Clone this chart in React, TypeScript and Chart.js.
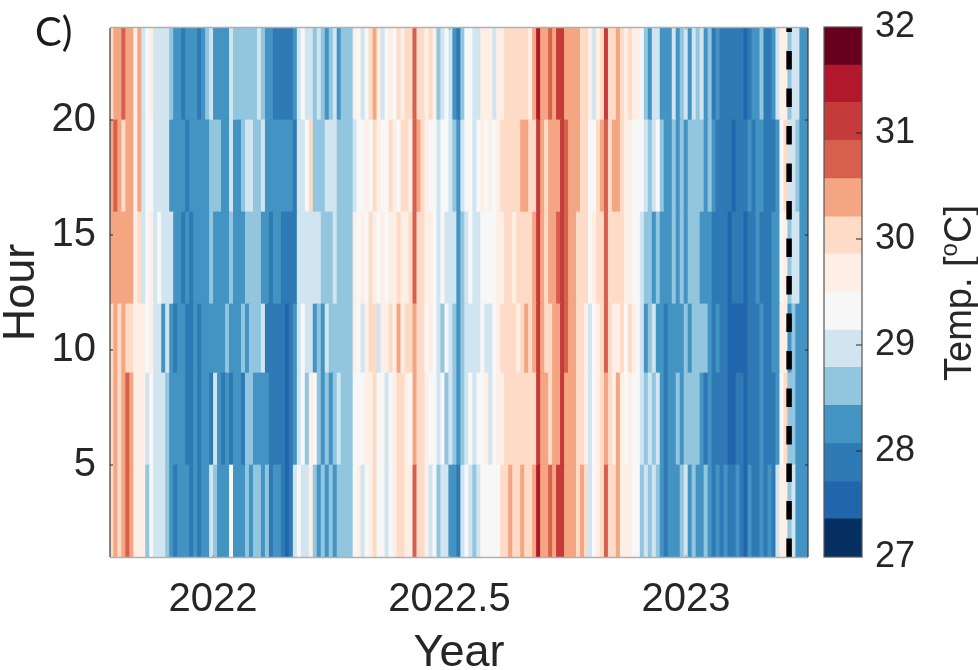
import React, { useEffect, useRef } from "react";
import { Chart, registerables } from "chart.js";

Chart.register(...registerables);

const FONT = "'Liberation Sans', Arial, sans-serif";
const INK = "#262626";

// Shading classes of the colour bar, coldest first
const classColors = ["#053061", "#2166ac", "#2f79b5", "#4393c3", "#92c5de", "#d1e5f0", "#f7f7f7", "#fdefe6", "#fddbc7", "#f4a582", "#d6604d", "#c53a3a", "#b2182b", "#67001f"];
const colorbarEdges = [27, 27.36, 27.71, 28.07, 28.43, 28.79, 29.14, 29.5, 29.86, 30.21, 30.57, 30.93, 31.29, 31.64, 32];

const hourEdges = [1, 5, 9, 12, 16, 20, 24];
const yearMin = 2021.782;
const yearMax = 2023.258;
const xTickValues = [2022, 2022.5, 2023];
const yTickValues = [5, 10, 15, 20];
const eventYear = 2023.218;

// Temperature (deg C), one array per band of hours, one value per time column
const tempHours1to5 = [
  30.0,30.4,30.0,30.4,30.7,30.4,29.7,29.7,29.7,28.6,
  29.3,29.0,29.0,29.0,28.6,28.2,27.9,28.2,28.2,28.2,
  27.9,28.2,27.9,28.2,28.2,29.0,28.6,28.2,28.2,28.2,
  29.3,28.2,28.2,28.2,28.6,28.2,28.6,28.6,28.2,28.6,
  27.9,28.2,28.2,27.9,27.5,27.9,29.0,29.3,29.0,29.0,
  29.7,28.6,28.2,28.6,28.2,28.6,28.2,28.6,28.6,28.6,
  28.6,29.3,29.7,29.0,29.3,29.7,30.0,29.3,29.3,29.0,
  29.3,29.7,30.0,30.0,29.7,29.7,30.7,30.0,30.0,29.7,
  29.0,29.3,28.6,29.0,29.0,28.2,28.2,27.9,29.0,29.3,
  29.0,28.6,29.0,29.3,29.3,29.3,29.3,29.3,30.0,30.0,
  30.4,30.0,30.0,30.4,30.0,30.0,30.4,31.5,30.4,30.4,
  30.7,30.4,31.1,31.1,30.4,30.4,30.4,30.0,30.4,30.0,
  29.0,29.3,29.7,30.0,30.7,30.0,30.0,30.4,29.7,29.7,
  29.7,29.3,29.3,28.6,29.0,28.6,29.0,28.6,28.2,27.9,
  28.2,28.2,28.2,28.6,29.0,28.2,28.6,28.2,28.2,28.6,
  28.2,27.9,28.2,27.9,28.2,27.9,27.9,28.2,27.9,27.5,
  28.2,27.9,27.9,28.2,27.9,28.2,27.9,29.0,29.7,29.7,
  28.6,29.0,28.2,28.2,28.2,
];
const tempHours5to9 = [
  30.0,30.4,30.0,30.4,30.7,30.4,29.7,29.7,29.7,29.0,
  29.3,29.0,29.0,29.0,28.6,28.2,28.2,28.2,28.2,27.9,
  27.9,28.2,27.9,28.2,28.2,27.9,29.0,28.2,27.9,28.2,
  27.9,28.2,28.2,27.9,28.6,28.6,28.2,28.2,28.2,28.2,
  27.9,27.9,27.9,27.9,27.5,27.9,28.2,29.0,29.3,28.6,
  29.7,29.3,28.6,28.2,28.6,28.2,28.6,29.0,28.6,28.6,
  28.6,29.3,29.3,29.3,29.7,29.7,30.0,29.3,29.3,29.0,
  29.3,29.7,30.0,30.0,29.7,29.3,30.4,30.0,30.0,29.7,
  29.3,29.3,29.0,29.3,28.6,29.0,28.6,28.2,28.6,29.0,
  29.3,29.0,29.3,29.3,29.7,29.0,29.3,29.7,29.7,30.0,
  30.0,30.0,30.0,30.0,30.0,30.0,30.0,31.1,30.4,30.4,
  30.0,30.4,30.4,31.1,30.4,30.4,30.4,30.0,30.0,29.7,
  29.0,29.3,29.7,30.0,30.4,30.0,29.7,30.4,29.7,29.3,
  29.7,29.3,29.3,29.0,28.6,29.0,28.6,29.0,28.2,27.9,
  28.2,28.2,28.6,28.2,28.6,28.6,28.6,28.6,28.2,27.9,
  28.2,27.9,27.9,27.9,27.9,27.5,27.5,27.9,27.9,27.5,
  27.9,27.9,27.9,28.2,27.9,27.9,27.9,28.2,29.3,30.0,
  28.6,28.6,28.2,28.2,28.2,
];
const tempHours9to12 = [
  30.0,30.4,30.0,30.4,30.0,30.0,29.7,29.7,29.7,29.3,
  29.7,29.0,29.0,28.2,29.0,28.2,27.9,28.2,28.2,27.9,
  27.9,28.2,27.9,28.2,28.2,28.2,28.2,28.2,28.2,28.6,
  28.2,28.2,28.2,28.6,28.2,28.6,28.6,28.6,29.0,27.9,
  27.9,27.9,27.9,27.9,27.5,27.9,28.2,29.0,29.3,29.0,
  29.0,28.2,28.6,28.2,29.0,28.6,28.6,28.6,28.6,28.6,
  28.6,29.7,29.3,29.0,29.7,30.0,30.0,29.0,29.7,29.7,
  30.0,29.7,30.4,29.7,30.0,30.0,30.4,30.0,30.0,29.3,
  29.7,29.3,29.0,28.6,29.3,29.0,28.6,28.2,28.6,29.0,
  29.0,29.0,29.0,29.3,29.0,29.0,29.3,29.7,30.0,30.0,
  30.0,30.0,29.7,30.0,30.4,30.0,30.4,31.1,30.4,30.0,
  30.0,30.4,30.4,31.1,30.7,30.4,30.4,30.0,30.0,29.7,
  29.0,29.3,29.7,30.0,30.7,30.0,29.7,29.7,30.0,29.3,
  30.0,29.7,29.3,29.0,28.2,28.6,29.0,28.2,28.2,27.9,
  28.2,28.2,28.2,28.2,28.6,28.2,28.6,28.6,28.6,28.6,
  28.2,27.9,28.2,27.9,27.9,27.5,27.5,27.5,27.5,27.5,
  27.9,27.9,27.9,28.2,27.9,27.9,28.2,28.2,29.7,29.7,
  28.2,28.6,28.2,28.2,28.2,
];
const tempHours12to16 = [
  30.4,30.4,30.4,30.4,30.4,30.4,29.7,30.0,29.0,29.3,
  29.7,29.0,29.3,29.0,29.0,29.0,28.2,28.2,27.9,28.2,
  27.9,28.2,28.2,28.2,28.2,28.6,28.2,28.2,28.2,28.2,
  28.6,28.2,28.2,28.2,28.6,28.6,28.6,28.6,28.2,28.2,
  27.9,28.2,28.2,27.9,27.9,27.9,27.9,29.0,29.0,29.0,
  29.0,29.0,29.0,28.6,28.6,28.6,29.0,28.6,28.6,28.6,
  28.6,29.7,29.3,29.7,29.3,30.0,29.7,29.3,29.7,29.3,
  29.7,29.7,30.0,29.7,29.7,30.0,30.7,30.0,30.0,29.7,
  29.7,29.3,29.0,29.3,29.0,29.0,29.0,28.2,28.6,29.0,
  29.3,29.0,29.0,29.3,29.3,29.3,29.3,29.7,29.7,30.0,
  30.0,29.7,30.0,30.0,30.0,30.0,30.4,31.1,30.4,30.0,
  30.4,30.4,30.7,31.1,30.7,30.4,30.4,30.0,30.0,30.0,
  29.3,29.7,30.0,30.0,30.7,30.0,30.0,30.0,30.0,29.7,
  29.7,29.3,29.3,29.0,28.6,28.6,28.2,28.6,28.2,28.2,
  28.2,28.6,28.2,28.6,28.2,28.6,28.6,28.6,28.2,28.2,
  28.2,27.9,27.9,27.9,27.9,27.5,27.9,27.9,27.9,27.5,
  27.9,27.9,28.2,27.9,27.9,27.9,28.2,28.2,29.3,29.7,
  28.6,29.0,29.0,28.2,28.2,
];
const tempHours16to20 = [
  30.4,30.7,30.4,30.0,30.4,30.4,29.7,30.4,29.0,29.3,
  29.3,29.0,29.0,29.0,29.0,28.2,28.2,28.2,28.2,27.9,
  28.2,28.2,28.2,28.2,28.2,28.6,28.6,28.6,28.2,28.2,
  29.0,28.2,28.2,28.6,29.0,29.0,28.6,28.6,29.0,28.2,
  28.2,28.2,28.2,28.2,28.2,28.2,27.9,29.0,29.0,29.3,
  30.0,28.6,28.6,28.6,29.0,29.0,29.0,28.6,28.6,28.6,
  28.6,29.0,29.3,29.3,29.7,29.3,30.0,29.7,29.3,29.3,
  30.0,29.7,29.3,30.0,30.0,29.7,30.7,30.4,30.0,29.7,
  29.3,29.3,29.0,29.3,29.3,29.0,28.6,28.2,29.0,29.3,
  29.3,29.0,29.3,29.7,29.3,29.7,29.3,29.7,30.0,30.0,
  30.0,30.0,30.0,30.4,30.4,30.0,30.0,31.1,30.4,30.0,
  30.4,30.4,30.4,31.1,30.7,30.4,30.4,30.4,30.0,30.0,
  29.3,29.3,30.0,30.4,30.7,30.0,30.4,30.4,30.0,29.7,
  29.7,29.3,29.3,29.3,29.0,28.6,29.0,29.3,28.6,28.2,
  28.2,28.6,28.2,28.6,28.2,28.6,28.6,28.6,28.6,28.2,
  28.6,28.2,27.9,27.9,27.9,27.9,27.5,27.9,27.9,27.9,
  28.2,27.9,28.2,28.2,27.9,27.9,27.9,28.2,29.3,30.0,
  29.0,29.0,28.6,28.2,28.2,
];
const tempHours20to24 = [
  30.0,30.4,30.4,30.7,30.4,30.4,29.7,30.4,29.0,29.3,
  29.7,29.0,29.0,29.0,29.0,28.6,28.2,28.2,27.9,28.2,
  28.2,28.2,27.9,28.2,28.6,29.0,28.2,28.2,28.2,28.2,
  29.0,28.6,28.6,28.6,28.6,28.6,28.6,29.0,28.6,28.2,
  28.2,27.9,27.9,27.9,27.9,27.9,28.2,29.0,29.3,29.0,
  29.0,28.6,29.0,28.6,28.2,28.6,29.0,28.2,28.6,28.6,
  28.6,29.7,29.3,29.0,29.3,30.0,30.4,29.7,29.0,29.3,
  29.7,29.3,30.0,29.7,30.0,30.0,30.7,30.0,30.0,29.7,
  30.0,29.7,28.6,29.0,29.3,29.0,28.2,27.9,28.6,29.3,
  29.3,29.0,29.0,29.7,29.7,29.7,29.0,29.7,29.7,30.0,
  30.0,30.0,30.0,30.0,30.0,29.7,30.4,31.5,30.4,30.4,
  30.7,30.4,31.1,31.1,30.4,30.4,30.4,30.4,30.0,30.0,
  29.7,29.0,29.7,30.0,31.1,30.0,30.0,30.4,30.0,29.7,
  30.0,29.7,29.7,29.3,28.6,28.2,29.0,29.0,28.2,28.2,
  28.2,29.0,28.2,28.6,29.0,28.2,29.0,28.6,29.0,28.2,
  28.6,27.9,28.2,27.9,27.9,27.9,27.9,27.9,27.9,27.5,
  27.9,28.2,28.2,28.6,27.9,27.9,28.2,29.0,29.7,29.7,
  28.6,29.0,29.0,28.2,28.2,
];
const hourBands = [tempHours1to5, tempHours5to9, tempHours9to12, tempHours12to16, tempHours16to20, tempHours20to24];

const colorForTemp = (t: number) => {
  let k = 0;
  while (k < classColors.length - 1 && t >= colorbarEdges[k + 1]) k++;
  return classColors[k];
};

const yearOfColumn = (i: number, n: number) => yearMin + ((i + 0.5) * (yearMax - yearMin)) / n;

const framePlugin = {
  id: "frame",
  afterDatasetsDraw(chart: any) {
    const { ctx, chartArea: a, scales } = chart;
    const { left, right, top, bottom } = a;
    ctx.save();
    ctx.lineWidth = 1.5;
    ctx.strokeStyle = "#b0b0b0";
    ctx.beginPath();
    ctx.moveTo(left, top - 0.5); ctx.lineTo(right, top - 0.5);
    ctx.moveTo(left, bottom + 0.5); ctx.lineTo(right, bottom + 0.5);
    ctx.stroke();
    ctx.lineWidth = 1.2;
    ctx.strokeStyle = "#3a3a3a";
    ctx.beginPath();
    ctx.moveTo(left, top); ctx.lineTo(left, bottom);
    ctx.moveTo(right, top); ctx.lineTo(right, bottom);
    ctx.stroke();
    ctx.strokeStyle = INK;
    ctx.lineWidth = 1;
    ctx.beginPath();
    for (const v of yTickValues) {
      const y = scales.y.getPixelForValue(v);
      ctx.moveTo(left, y); ctx.lineTo(left + 3, y);
      ctx.moveTo(right, y); ctx.lineTo(right - 3, y);
    }
    ctx.stroke();
    ctx.strokeStyle = "#9a9a9a";
    ctx.beginPath();
    for (const v of xTickValues) {
      const x = scales.x.getPixelForValue(v);
      ctx.moveTo(x, bottom); ctx.lineTo(x, bottom - 2);
      ctx.moveTo(x, top); ctx.lineTo(x, top + 2);
    }
    ctx.stroke();
    ctx.restore();
  },
};

const colorbarFramePlugin = {
  id: "colorbarFrame",
  afterDatasetsDraw(chart: any) {
    const { ctx, chartArea: a, scales } = chart;
    ctx.save();
    ctx.strokeStyle = "#555555";
    ctx.lineWidth = 1.2;
    ctx.strokeRect(a.left, a.top, a.right - a.left, a.bottom - a.top);
    ctx.strokeStyle = INK;
    ctx.lineWidth = 1;
    ctx.beginPath();
    for (const v of [28, 29, 30, 31]) {
      const y = scales.y.getPixelForValue(v);
      ctx.moveTo(a.right, y); ctx.lineTo(a.right - 6, y);
    }
    ctx.stroke();
    ctx.restore();
  },
};

export default function App() {
  const mainRef = useRef<HTMLCanvasElement>(null);
  const barRef = useRef<HTMLCanvasElement>(null);

  useEffect(() => {
    const bandSets: any[] = hourBands.map((temps, b) => ({
      type: "bar",
      label: `Hours ${hourEdges[b]}-${hourEdges[b + 1]}`,
      data: temps.map((_, i) => ({ x: yearOfColumn(i, temps.length), y: [hourEdges[b], hourEdges[b + 1]] })),
      backgroundColor: temps.map(colorForTemp),
      borderWidth: 0,
      barThickness: 4.6,
      grouped: false,
      order: 1,
    }));
    const eventLine: any = {
      type: "line",
      label: "Event",
      data: [{ x: eventYear, y: 1 }, { x: eventYear, y: 24 }],
      borderColor: "#000000",
      borderWidth: 5.5,
      borderDash: [18.5, 19],
      borderCapStyle: "butt",
      pointRadius: 0,
      order: 0,
    };
    const main = new Chart(mainRef.current!, {
      type: "bar",
      data: { datasets: [...bandSets, eventLine] },
      plugins: [framePlugin],
      options: {
        animation: false,
        responsive: false,
        layout: { padding: { left: 0, top: 28, right: 170, bottom: 0 } },
        plugins: { legend: { display: false }, tooltip: { enabled: false } },
        scales: {
          x: {
            type: "linear",
            offset: false,
            min: yearMin,
            max: yearMax,
            grid: { display: false },
            border: { display: false },
            afterBuildTicks: (s: any) => { s.ticks = xTickValues.map((value) => ({ value })); },
            afterFit: (s: any) => { s.height = 113; s.paddingLeft = 0; s.paddingRight = 0; },
            ticks: {
              color: INK,
              font: { family: FONT, size: 40 },
              padding: 11,
              maxRotation: 0,
              autoSkip: false,
              callback: (v: any) => String(v),
            },
            title: { display: true, text: "Year", color: INK, font: { family: FONT, size: 45, lineHeight: 0.75 }, padding: { top: 0, bottom: 0 } },
          },
          y: {
            type: "linear",
            min: 1,
            max: 24,
            grid: { display: false },
            border: { display: false },
            afterBuildTicks: (s: any) => { s.ticks = yTickValues.map((value) => ({ value })); },
            afterFit: (s: any) => { s.width = 110; s.paddingTop = 0; s.paddingBottom = 0; },
            ticks: {
              color: INK,
              font: { family: FONT, size: 40 },
              padding: 6,
              callback: (v: any) => String(v),
            },
            title: { display: true, text: "Hour", color: INK, font: { family: FONT, size: 45, lineHeight: 0.95 }, padding: { top: 0, bottom: 0 } },
          },
        },
      } as any,
    } as any);

    const barSets: any[] = classColors.map((color, k) => ({
      label: `Class ${k}`,
      data: [[colorbarEdges[k], colorbarEdges[k + 1]]],
      backgroundColor: color,
      borderWidth: 0,
      grouped: false,
      barPercentage: 1,
      categoryPercentage: 1,
    }));
    const bar = new Chart(barRef.current!, {
      type: "bar",
      data: { labels: ["Temp."], datasets: barSets },
      plugins: [colorbarFramePlugin],
      options: {
        animation: false,
        responsive: false,
        layout: { padding: { left: 14, top: 27, right: 0, bottom: 27 } },
        plugins: { legend: { display: false }, tooltip: { enabled: false } },
        scales: {
          x: { display: false, afterFit: (s: any) => { s.height = 0; } },
          y: {
            position: "right",
            min: 27,
            max: 32,
            grid: { display: false },
            border: { display: false },
            afterFit: (s: any) => { s.width = 116; s.paddingTop = 0; s.paddingBottom = 0; },
            ticks: { stepSize: 1, color: INK, font: { family: FONT, size: 36 }, padding: 5 },
          },
        },
      } as any,
    } as any);

    return () => {
      main.destroy();
      bar.destroy();
    };
  }, []);

  return (
    <div style={{ position: "fixed", left: 0, top: 0, width: 978, height: 670, overflow: "hidden", background: "#fff" }}>
      <canvas ref={mainRef} width={978} height={670} style={{ position: "absolute", left: 0, top: 0 }} />
      <canvas ref={barRef} width={168} height={584} style={{ position: "absolute", left: 810, top: 0 }} />
      <div style={{ position: "absolute", left: 35, top: 6, fontFamily: "Lato, sans-serif", fontSize: 40, color: "#1a1a1a", lineHeight: "50px" }}>C)</div>
      <div style={{ position: "absolute", left: 958, top: 293, width: 0, height: 0 }}>
        <div style={{ position: "absolute", transform: "translate(-50%,-50%) rotate(-90deg)", whiteSpace: "nowrap", fontFamily: FONT, fontSize: 38, color: INK, lineHeight: "40px" }}>
          Temp. [<sup style={{ fontSize: 24, lineHeight: 0 }}>o</sup>C]
        </div>
      </div>
    </div>
  );
}
